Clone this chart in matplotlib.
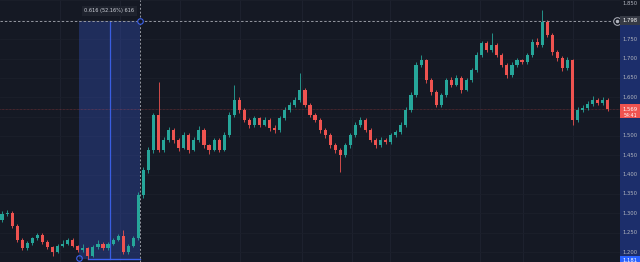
import matplotlib
matplotlib.use("Agg")
import matplotlib.pyplot as plt
from matplotlib.patches import Rectangle

# OHLC values (first open, then closes / highs / lows)
first_open = 1.283
closes = [1.298, 1.301, 1.267, 1.231, 1.210, 1.223, 1.236, 1.244, 1.226, 1.213,
          1.200, 1.216, 1.221, 1.231, 1.216, 1.205, 1.210, 1.190, 1.213, 1.221,
          1.210, 1.221, 1.231, 1.241, 1.200, 1.216, 1.236, 1.347, 1.412, 1.464,
          1.554, 1.464, 1.489, 1.515, 1.489, 1.469, 1.502, 1.464, 1.489, 1.515,
          1.476, 1.464, 1.489, 1.464, 1.502, 1.554, 1.593, 1.567, 1.541, 1.528,
          1.546, 1.528, 1.541, 1.520, 1.515, 1.546, 1.567, 1.580, 1.593, 1.619,
          1.580, 1.554, 1.541, 1.515, 1.502, 1.476, 1.464, 1.451, 1.476, 1.502,
          1.528, 1.541, 1.515, 1.489, 1.476, 1.489, 1.484, 1.502, 1.510, 1.528,
          1.567, 1.606, 1.683, 1.696, 1.644, 1.613, 1.580, 1.606, 1.644, 1.632,
          1.650, 1.619, 1.644, 1.670, 1.709, 1.740, 1.722, 1.735, 1.709, 1.683,
          1.657, 1.683, 1.696, 1.691, 1.709, 1.743, 1.735, 1.794, 1.761, 1.717,
          1.701, 1.675, 1.696, 1.541, 1.567, 1.572, 1.582, 1.593, 1.585, 1.593,
          1.569]
highs = [1.305, 1.308, 1.306, 1.272, 1.236, 1.228, 1.240, 1.250, 1.248, 1.231,
         1.216, 1.220, 1.232, 1.236, 1.235, 1.219, 1.222, 1.214, 1.218, 1.230,
         1.225, 1.226, 1.235, 1.246, 1.257, 1.222, 1.242, 1.356, 1.420, 1.472,
         1.560, 1.639, 1.497, 1.522, 1.520, 1.494, 1.510, 1.507, 1.496, 1.525,
         1.520, 1.480, 1.495, 1.494, 1.510, 1.562, 1.632, 1.600, 1.572, 1.546,
         1.552, 1.550, 1.548, 1.545, 1.528, 1.552, 1.575, 1.588, 1.600, 1.663,
         1.625, 1.585, 1.560, 1.546, 1.520, 1.508, 1.482, 1.470, 1.482, 1.508,
         1.535, 1.548, 1.546, 1.520, 1.494, 1.496, 1.494, 1.508, 1.516, 1.535,
         1.574, 1.614, 1.690, 1.709, 1.700, 1.650, 1.618, 1.612, 1.650, 1.652,
         1.657, 1.655, 1.650, 1.676, 1.716, 1.746, 1.745, 1.766, 1.740, 1.714,
         1.688, 1.690, 1.702, 1.700, 1.715, 1.750, 1.752, 1.825, 1.800, 1.766,
         1.722, 1.706, 1.703, 1.700, 1.574, 1.580, 1.590, 1.603, 1.598, 1.600,
         1.598]
lows = [1.278, 1.292, 1.262, 1.225, 1.204, 1.206, 1.219, 1.232, 1.221, 1.208,
        1.190, 1.197, 1.212, 1.218, 1.212, 1.199, 1.200, 1.182, 1.186, 1.209,
        1.204, 1.206, 1.217, 1.228, 1.196, 1.195, 1.212, 1.230, 1.340, 1.405,
        1.455, 1.458, 1.458, 1.483, 1.482, 1.460, 1.465, 1.455, 1.460, 1.485,
        1.470, 1.452, 1.460, 1.458, 1.460, 1.498, 1.548, 1.560, 1.535, 1.520,
        1.524, 1.522, 1.525, 1.512, 1.508, 1.511, 1.542, 1.562, 1.575, 1.588,
        1.574, 1.548, 1.535, 1.508, 1.495, 1.470, 1.455, 1.407, 1.446, 1.470,
        1.498, 1.522, 1.510, 1.484, 1.470, 1.472, 1.478, 1.480, 1.497, 1.505,
        1.522, 1.562, 1.600, 1.678, 1.638, 1.606, 1.574, 1.576, 1.600, 1.626,
        1.628, 1.612, 1.615, 1.640, 1.665, 1.704, 1.716, 1.718, 1.703, 1.677,
        1.650, 1.652, 1.679, 1.685, 1.687, 1.704, 1.729, 1.730, 1.755, 1.710,
        1.694, 1.668, 1.671, 1.528, 1.537, 1.562, 1.567, 1.578, 1.580, 1.581,
        1.564]

price_ticks = [1.200, 1.250, 1.300, 1.350, 1.400, 1.450, 1.500, 1.600,
               1.650, 1.700, 1.750, 1.850]
last_price = 1.569
countdown = "54:41"
measure_low, measure_high = 1.181, 1.798
measure_start, measure_end = 15.3, 27.3
measure_text = "0.616 (52.16%) 616"
grid_x = [11.5, 23.4, 35.2, 47.1, 59.4, 69.3, 76.8, 94.7, 103.2, 113.1]

opens = [first_open] + closes[:-1]

BG = "#151924"
UP = "#26a69a"
DOWN = "#ef5350"
BLUE = "#3d63f0"
TXT = "#b2b5be"

fig = plt.figure(figsize=(6.4, 2.62), dpi=100)
fig.patch.set_facecolor(BG)
ax = fig.add_axes([0, 0, 620 / 640, 1])
ax2 = fig.add_axes([620 / 640, 0, 20 / 640, 1])
ymin, ymax = 1.1742, 1.8512
for a in (ax, ax2):
    a.set_facecolor(BG)
    a.set_ylim(ymin, ymax)
    a.set_xticks([])
    a.set_yticks([])
    for s in a.spines.values():
        s.set_visible(False)
ax.set_xlim(-0.4, 122.4)
ax2.set_xlim(0, 1)

# faint grid
for gx in grid_x:
    ax.axvline(gx, color="#1f2330", lw=0.6, zorder=0)
for p in price_ticks + [1.550, 1.800]:
    ax.axhline(p, color="#1b1f2b", lw=0.6, zorder=0)

# measure range
ax.add_patch(Rectangle((measure_start, measure_low), measure_end - measure_start,
                       measure_high - measure_low, facecolor=BLUE, alpha=0.27,
                       edgecolor="none", zorder=1))
mid = (measure_start + measure_end) / 2
ax.plot([mid, mid], [measure_low, measure_high], color=BLUE, lw=0.9, alpha=0.9, zorder=2)
ax.plot([measure_start + 1.8, measure_end], [measure_low, measure_low], color=BLUE, lw=1.0, zorder=2)
ax.plot([measure_start], [measure_low + 0.004], marker="o", mfc="none", mec=BLUE,
        ms=4, mew=0.8, zorder=4)
ax.plot([measure_end], [measure_high], marker="o", mfc=BG, mec=BLUE, ms=4, mew=0.8, zorder=6)
ax.text(mid, 1.823, measure_text, color="#d1d4dc", fontsize=3.6, ha="center",
        va="center", zorder=6,
        bbox=dict(boxstyle="square,pad=0.5", facecolor="#1e222d", edgecolor="none"))

# last price line
ax.axhline(last_price, color=DOWN, lw=0.5, ls=(0, (1, 1)), alpha=0.45, zorder=1)

# candles
for i in range(len(closes)):
    o, c = opens[i], closes[i]
    col = UP if c >= o else DOWN
    ax.vlines(i, lows[i], highs[i], color=col, lw=0.6, zorder=3)
    body = c - o if abs(c - o) > 0.002 else 0.002
    ax.bar(i, body, bottom=o, width=0.62, color=col, linewidth=0, zorder=3)

# crosshair
ax.axhline(measure_high, xmax=0.985, color="#9598a1", lw=0.7, ls=(0, (2.5, 2)), zorder=5)
ax.axvline(measure_end, color="#9598a1", lw=0.7, ls=(0, (2, 2)), zorder=5)
ax.plot([0.995], [measure_high], marker="o", mfc="none", mec="#b2b5be", ms=5.5,
        mew=0.7, transform=ax.get_yaxis_transform(), clip_on=False, zorder=6)
ax.plot([0.995], [measure_high], marker="o", color="#b2b5be", ms=1.5,
        transform=ax.get_yaxis_transform(), clip_on=False, zorder=6)

# price scale
ax2.axhspan(measure_low, measure_high, color="#1c2e6b", zorder=0)
for p in price_ticks:
    # keep the topmost label inside the figure
    yp = min(p, ymax - 0.008)
    ax2.text(0.5, yp, f"{p:.3f}", color=TXT, fontsize=3.8, ha="center", va="center")
ax2.text(0.5, measure_high, f"{measure_high:.3f}", color="#ffffff", fontsize=3.8,
         ha="center", va="center",
         bbox=dict(boxstyle="square,pad=0.45", facecolor="#363a45", edgecolor="none"))
ax2.add_patch(Rectangle((0, last_price - 0.023), 1, 0.037, facecolor=DOWN,
                        edgecolor="none", zorder=2))
ax2.text(0.5, last_price, f"{last_price:.3f}", color="white", fontsize=3.8,
         ha="center", va="center", zorder=3)
ax2.text(0.5, last_price - 0.016, countdown, color="white", fontsize=3.4,
         ha="center", va="center", zorder=3)
ax2.text(0.5, measure_low - 0.003, f"{measure_low:.3f}", color="white", fontsize=3.8,
         ha="center", va="center", zorder=3,
         bbox=dict(boxstyle="square,pad=0.45", facecolor="#2962ff", edgecolor="none"))

fig.savefig("out.png", dpi=100, facecolor=BG)
